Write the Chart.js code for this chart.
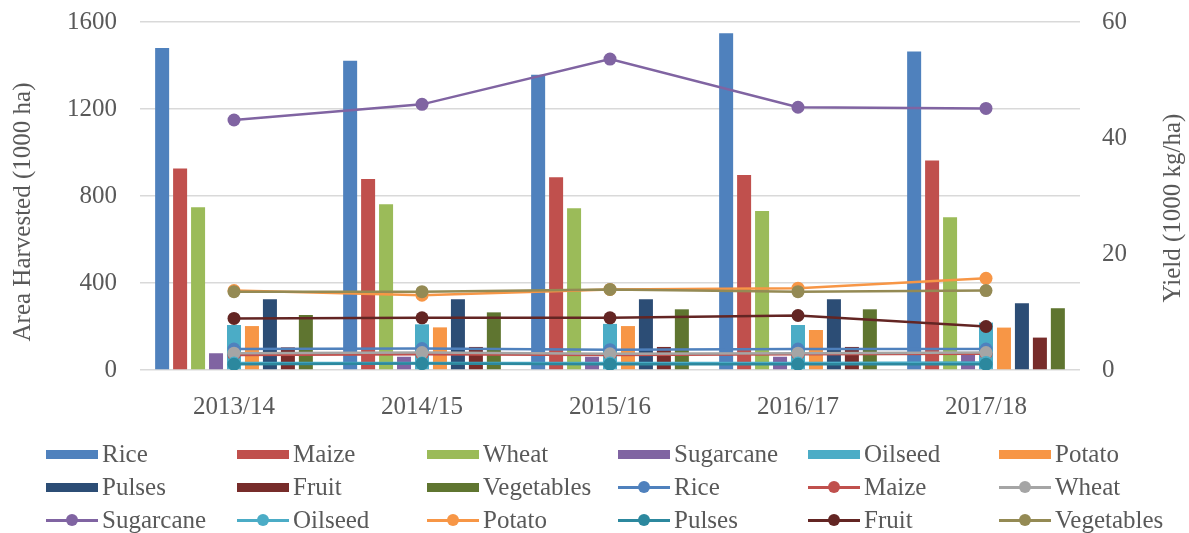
<!DOCTYPE html>
<html>
<head>
<meta charset="utf-8">
<script src="https://cdn.jsdelivr.net/npm/chart.js@4.4.0/dist/chart.umd.min.js"></script>
<style>
  body { margin: 0; background: #fff; }
  #wrap { position: relative; width: 1189px; height: 533px; }
  #chart-area { position: absolute; left: 0; top: 0; }
  #legend { position: absolute; left: 0; top: 0; width: 1189px; height: 533px; pointer-events: none; }
  .item { position: absolute; height: 30px; font-family: "Liberation Serif", serif; font-size: 25px; color: #595959; white-space: nowrap; }
  .item span { position: absolute; top: 0; }
  .swatch { position: absolute; }
</style>
</head>
<body>
<div id="wrap">
  <canvas id="chart-area" width="1189" height="433"></canvas>
  <div id="legend"></div>
</div>
<script>
var categories = ['2013/14', '2014/15', '2015/16', '2016/17', '2017/18'];
var crops = ['Rice', 'Maize', 'Wheat', 'Sugarcane', 'Oilseed', 'Potato', 'Pulses', 'Fruit', 'Vegetables'];

// area harvested (1000 ha), left axis
var areaRice = [1480, 1422, 1357, 1548, 1464];
var areaMaize = [927, 878, 886, 897, 963];
var areaWheat = [748, 762, 744, 731, 702];
var areaSugarcane = [77, 61, 61, 61, 69];
var areaOilseed = [207, 210, 212, 207, 218];
var areaPotato = [202, 196, 202, 184, 195];
var areaPulses = [325, 325, 325, 325, 307];
var areaFruit = [104, 106, 106, 106, 149];
var areaVegetables = [253, 265, 279, 279, 284];

// yield (1000 kg/ha), right axis
var yieldRice = [3.6, 3.7, 3.5, 3.6, 3.6];
var yieldMaize = [2.6, 2.7, 2.6, 2.7, 2.8];
var yieldWheat = [2.9, 3.0, 2.8, 2.9, 3.0];
var yieldSugarcane = [43.1, 45.8, 53.6, 45.3, 45.1];
var yieldOilseed = [1.2, 1.2, 1.2, 1.2, 1.3];
var yieldPotato = [13.7, 12.9, 13.9, 14.1, 15.8];
var yieldPulses = [1.0, 1.1, 1.0, 1.0, 1.0];
var yieldFruit = [8.9, 9.0, 9.0, 9.4, 7.5];
var yieldVegetables = [13.5, 13.5, 13.9, 13.5, 13.7];

var leftTicks = [0, 400, 800, 1200, 1600];
var rightTicks = [0, 20, 40, 60];

var areaData = [areaRice, areaMaize, areaWheat, areaSugarcane, areaOilseed, areaPotato, areaPulses, areaFruit, areaVegetables];
var yieldData = [yieldRice, yieldMaize, yieldWheat, yieldSugarcane, yieldOilseed, yieldPotato, yieldPulses, yieldFruit, yieldVegetables];

var barColors = ['#4F81BD', '#C0504D', '#9BBB59', '#8064A2', '#4BACC6', '#F79646', '#2C4D75', '#772C2A', '#5F7530'];
var lineColors = ['#4F81BD', '#C0504D', '#A5A5A5', '#8064A2', '#4BACC6', '#F79646', '#2C889E', '#632523', '#948A54'];

var fontFamily = '"Liberation Serif", "Times New Roman", serif';
var textColor = '#595959';
var leftTitle = 'Area Harvested (1000 ha)';
var rightTitle = 'Yield (1000 kg/ha)';

var datasets = [];
crops.forEach(function (name, i) {
  datasets.push({
    type: 'bar',
    label: name,
    data: areaData[i],
    backgroundColor: barColors[i],
    borderWidth: 0,
    yAxisID: 'y',
    order: 100,
    categoryPercentage: 0.86,
    barPercentage: 0.78
  });
});
crops.forEach(function (name, i) {
  datasets.push({
    type: 'line',
    label: name,
    data: yieldData[i],
    borderColor: lineColors[i],
    backgroundColor: lineColors[i],
    pointBackgroundColor: lineColors[i],
    pointBorderColor: lineColors[i],
    pointRadius: 6.5,
    pointBorderWidth: 0,
    borderWidth: 2.5,
    tension: 0,
    yAxisID: 'y1',
    order: 8 - i
  });
});

// both axis titles read bottom-to-top, as in the original
var axisTitles = {
  id: 'axisTitles',
  afterDraw: function (chart) {
    var c = chart.ctx;
    function draw(text, x, y) {
      c.save();
      c.translate(x, y);
      c.rotate(-Math.PI / 2);
      c.font = '25px ' + fontFamily;
      c.fillStyle = textColor;
      c.textAlign = 'center';
      c.textBaseline = 'middle';
      c.fillText(text, 0, 0);
      c.restore();
    }
    draw(leftTitle, 23, 212);
    draw(rightTitle, 1173, 208);
  }
};

function noVPad(scale) {
  scale.paddingTop = 0;
  scale.paddingBottom = 0;
}

var ctx = document.getElementById('chart-area').getContext('2d');
var chart = new Chart(ctx, {
  type: 'bar',
  data: { labels: categories, datasets: datasets },
  plugins: [axisTitles],
  options: {
    responsive: false,
    animation: false,
    layout: { padding: { top: 22, left: 0, right: 0, bottom: 0 } },
    plugins: { legend: { display: false }, tooltip: { enabled: false } },
    scales: {
      x: {
        grid: { display: false },
        border: { display: false },
        ticks: { color: textColor, font: { family: fontFamily, size: 25 }, padding: 14 },
        afterFit: function (scale) { scale.height = 63; }
      },
      y: {
        position: 'left',
        min: 0,
        max: 1600,
        afterBuildTicks: function (scale) { scale.ticks = leftTicks.map(function (v) { return { value: v }; }); },
        grid: { color: '#d9d9d9', lineWidth: 1.5, drawTicks: false },
        border: { display: false },
        ticks: {
          color: textColor,
          font: { family: fontFamily, size: 25 },
          padding: 23,
          callback: function (v) { return String(v); }
        },
        afterFit: function (scale) { scale.width = 140; noVPad(scale); }
      },
      y1: {
        position: 'right',
        min: 0,
        max: 60,
        afterBuildTicks: function (scale) { scale.ticks = rightTicks.map(function (v) { return { value: v }; }); },
        grid: { drawOnChartArea: false, drawTicks: false },
        border: { display: false },
        ticks: {
          color: textColor,
          font: { family: fontFamily, size: 25 },
          padding: 22,
          callback: function (v) { return String(v); }
        },
        afterFit: function (scale) { scale.width = 109; noVPad(scale); }
      }
    }
  }
});

// legend: 6 columns x 3 rows, bars first then lines, like the Excel original
var legend = document.getElementById('legend');
var colX = [46, 237, 427, 618, 808, 999];
var rowY = [454, 487, 520];
chart.data.datasets.forEach(function (ds, k) {
  var col = k % 6, row = Math.floor(k / 6);
  var item = document.createElement('div');
  item.className = 'item';
  item.style.left = colX[col] + 'px';
  item.style.top = (rowY[row] - 15) + 'px';
  if (ds.type === 'bar') {
    var box = document.createElement('div');
    box.className = 'swatch';
    box.style.cssText = 'left:0;top:11px;width:52px;height:9px;background:' + ds.backgroundColor;
    item.appendChild(box);
  } else {
    var ln = document.createElement('div');
    ln.className = 'swatch';
    ln.style.cssText = 'left:0;top:14px;width:52px;height:2.5px;background:' + ds.borderColor;
    var dot = document.createElement('div');
    dot.className = 'swatch';
    dot.style.cssText = 'left:20px;top:9px;width:12px;height:12px;border-radius:50%;background:' + ds.borderColor;
    item.appendChild(ln);
    item.appendChild(dot);
  }
  var txt = document.createElement('span');
  txt.textContent = ds.label;
  txt.style.left = '56px';
  txt.style.lineHeight = '30px';
  item.appendChild(txt);
  legend.appendChild(item);
});
</script>
</body>
</html>
